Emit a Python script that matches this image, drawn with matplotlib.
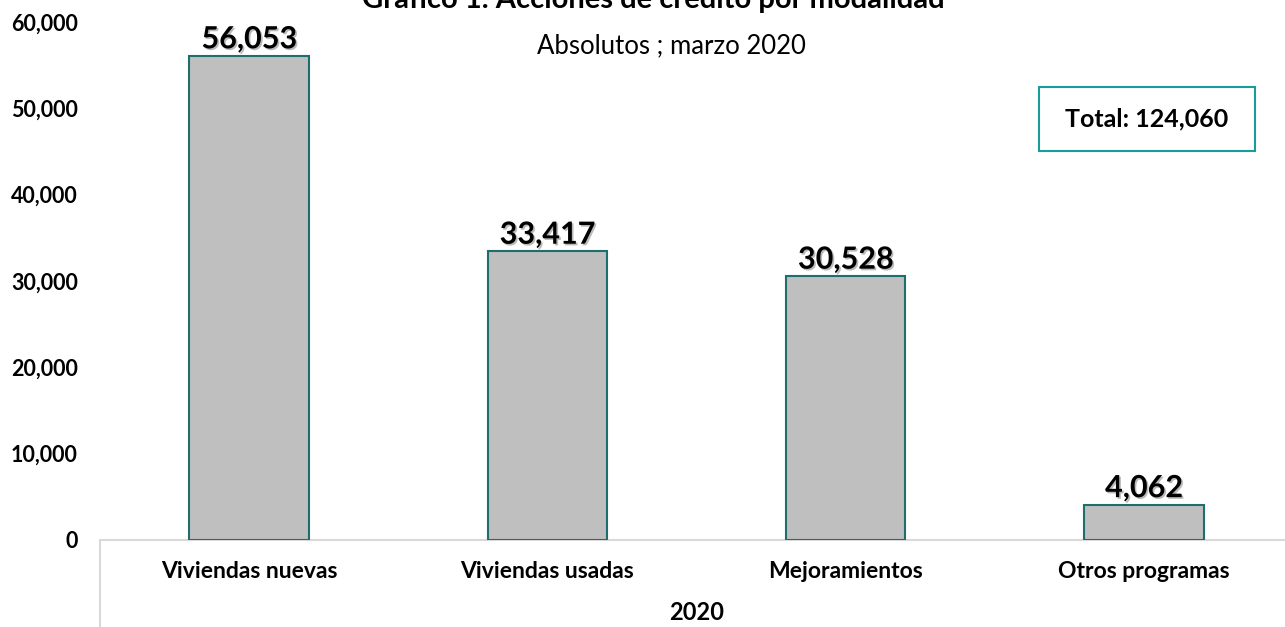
import matplotlib
matplotlib.use("Agg")
import matplotlib.pyplot as plt
import matplotlib.patheffects as pe
from matplotlib.ticker import FuncFormatter

categories = ["Viviendas nuevas", "Viviendas usadas", "Mejoramientos", "Otros programas"]
values = [56053, 33417, 30528, 4062]
group_label = "2020"
title = "Gráfico 1. Acciones de crédito por modalidad"
subtitle = "Absolutos ; marzo 2020"
total_text = "Total: 124,060"
yticks = [0, 10000, 20000, 30000, 40000, 50000, 60000]

plt.rcParams['font.family'] = ['Lato', 'DejaVu Sans']

W, H = 1285, 627
fig = plt.figure(figsize=(W / 100, H / 100), dpi=100)
left, right, bottom, top = 100, 1293, 87, 605
ax = fig.add_axes([left / W, bottom / H, (right - left) / W, (top - bottom) / H])

x = list(range(len(categories)))
ax.bar(x, values, width=0.40, color="#bfbfbf", edgecolor="#1f6e6e", linewidth=1.5, zorder=3)
ax.set_xlim(-0.5, len(categories) - 0.5)
ax.set_ylim(0, 60000)
ax.set_yticks(yticks)
ax.yaxis.set_major_formatter(FuncFormatter(lambda v, p: f"{int(v):,}"))
for lbl in ax.get_yticklabels():
    lbl.set_fontweight("bold")
ax.tick_params(axis="y", length=0, pad=16, labelsize=15.5)
ax.tick_params(axis="x", length=0, pad=0, labelbottom=False)
for s in ["top", "right", "left"]:
    ax.spines[s].set_visible(False)
ax.spines["bottom"].set_color("#d9d9d9")
ax.spines["bottom"].set_linewidth(1.5)

shadow = [pe.SimplePatchShadow(offset=(1.2, -1.2), shadow_rgbFace="#777777", alpha=0.5), pe.Normal()]
for xi, v in zip(x, values):
    ax.annotate(f"{v:,}", (xi, v), xytext=(0, 2), textcoords="offset points",
                ha="center", va="bottom", fontsize=22, fontweight="bold",
                path_effects=shadow, zorder=4)

for xi, c in zip(x, categories):
    ax.annotate(c, (xi, 0), xytext=(0, -32 * 0.72), textcoords="offset points",
                ha="center", va="center", fontsize=16.5, fontweight="bold",
                annotation_clip=False)
ax.annotate(group_label, (0.5, 0), xycoords="axes fraction", xytext=(0, -72 * 0.72),
            textcoords="offset points", ha="center", va="center",
            fontsize=17, fontweight="bold", annotation_clip=False)

# category group divider line on left
fig.add_artist(plt.Line2D([left / W, left / W], [0, bottom / H], color="#d9d9d9", linewidth=1.5))

fig.text(653 / W, 1 - 8 / H, title, ha="center", va="baseline", fontsize=21, fontweight="bold")
fig.text(671 / W, 1 - 53 / H, subtitle, ha="center", va="baseline", fontsize=18.5)

bx0, by0, bx1, by1 = 1039, 87, 1255, 151
fig.add_artist(plt.Rectangle((bx0 / W, 1 - by1 / H), (bx1 - bx0) / W, (by1 - by0) / H,
                             facecolor="white", edgecolor="#1a9c9c", linewidth=1.5,
                             transform=fig.transFigure))
fig.text((bx0 + bx1) / 2 / W, 1 - (by0 + by1) / 2 / H, total_text, ha="center", va="center",
         fontsize=18, fontweight="bold")

fig.savefig("out.png", dpi=100)
